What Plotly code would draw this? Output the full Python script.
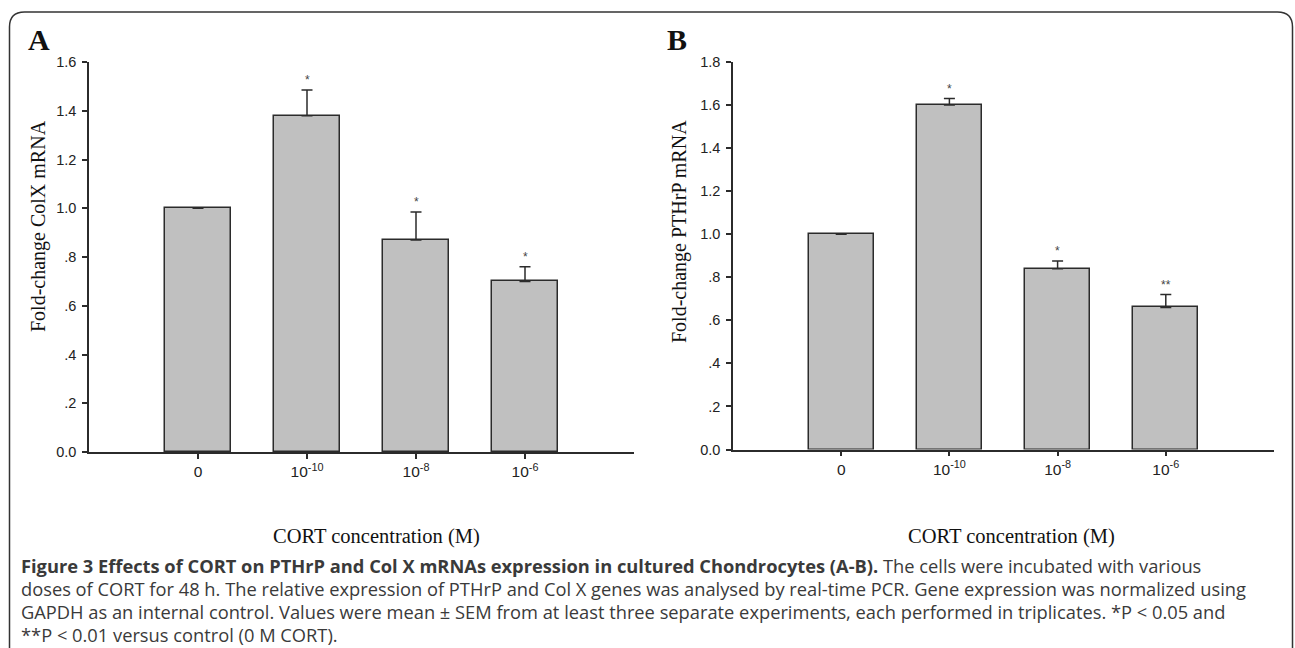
import plotly.graph_objects as go

W, H = 1295, 648

# ---------------- data ----------------
categories = ["0", "10<sup>-10</sup>", "10<sup>-8</sup>", "10<sup>-6</sup>"]
colx_mean = [1.00, 1.38, 0.87, 0.70]
colx_sem = [0.0, 0.105, 0.115, 0.06]
colx_sig = ["", "*", "*", "*"]

pthrp_mean = [1.00, 1.60, 0.84, 0.66]
pthrp_sem = [0.0, 0.03, 0.036, 0.06]
pthrp_sig = ["", "*", "*", "**"]

colx_ticks = [0, 0.2, 0.4, 0.6, 0.8, 1.0, 1.2, 1.4, 1.6]
colx_ticklabels = ["0.0", ".2", ".4", ".6", ".8", "1.0", "1.2", "1.4", "1.6"]
pthrp_ticks = [0, 0.2, 0.4, 0.6, 0.8, 1.0, 1.2, 1.4, 1.6, 1.8]
pthrp_ticklabels = ["0.0", ".2", ".4", ".6", ".8", "1.0", "1.2", "1.4", "1.6", "1.8"]

caption_lines = [
    "<b>Figure 3 Effects of CORT on PTHrP and Col X mRNAs expression in cultured Chondrocytes (A-B).</b> The cells were incubated with various",
    "doses of CORT for 48 h. The relative expression of PTHrP and Col X genes was analysed by real-time PCR. Gene expression was normalized using",
    "GAPDH as an internal control. Values were mean ± SEM from at least three separate experiments, each performed in triplicates. *P < 0.05 and",
    "**P < 0.01 versus control (0 M CORT).",
]

# ---------------- helpers ----------------
def px_x(p):
    return p / W

def px_y(p):
    return 1 - p / H

xpos = list(range(len(categories)))
BAR_FILL = "#c0c0c0"
EDGE = "#2b2b2b"

fig = go.Figure()


def add_panel(mean, sem, sig, xa, ya):
    fig.add_trace(go.Bar(
        x=xpos, y=mean, width=0.6, xaxis=xa, yaxis=ya,
        marker=dict(color=BAR_FILL, line=dict(color=EDGE, width=1.5)),
        error_y=dict(type="data", array=sem, arrayminus=[0] * len(sem),
                     symmetric=False, color=EDGE, thickness=1.5, width=5.5),
        showlegend=False, hoverinfo="skip",
    ))
    for i, s in enumerate(sig):
        if s:
            fig.add_annotation(
                x=xpos[i], y=mean[i] + sem[i], xref=xa, yref=ya,
                text=s, showarrow=False, yanchor="bottom", yshift=1,
                font=dict(family="Liberation Sans", size=12, color="#444"),
            )


add_panel(colx_mean, colx_sem, colx_sig, "x", "y")
add_panel(pthrp_mean, pthrp_sem, pthrp_sig, "x2", "y2")

ytickfont = dict(family="Liberation Sans", size=14.5, color="#222")
xtickfont = dict(family="Liberation Sans", size=15.5, color="#222")
common_x = dict(
    range=[-1, 4], tickmode="array", tickvals=xpos, ticktext=categories,
    showline=True, linecolor=EDGE, linewidth=1.5, ticks="outside",
    ticklen=5, tickwidth=1.5, tickcolor=EDGE, showgrid=False, zeroline=False,
    tickfont=xtickfont, fixedrange=True, automargin=False,
)
common_y = dict(
    showline=True, linecolor=EDGE, linewidth=1.5, ticks="outside",
    ticklen=5, tickwidth=1.5, tickcolor=EDGE, showgrid=False, zeroline=False,
    tickfont=ytickfont, tickmode="array", ticklabelstandoff=3, fixedrange=True,
    automargin=False,
)

fig.update_layout(
    template="none",
    width=W, height=H, autosize=False,
    margin=dict(l=0, r=0, t=0, b=0, pad=0, autoexpand=False),
    paper_bgcolor="white", plot_bgcolor="white",
    bargap=0,
    xaxis=dict(domain=[px_x(89), px_x(634)], anchor="y", **common_x),
    yaxis=dict(domain=[px_y(452), px_y(62)], anchor="x", range=[0, 1.6],
               tickvals=colx_ticks, ticktext=colx_ticklabels, **common_y),
    xaxis2=dict(domain=[px_x(733), px_x(1274)], anchor="y2", **common_x),
    yaxis2=dict(domain=[px_y(449.5), px_y(62)], anchor="x2", range=[0, 1.8],
                tickvals=pthrp_ticks, ticktext=pthrp_ticklabels, **common_y),
)

serif = "Liberation Serif"
# panel letters
for txt, cx in (("A", 39), ("B", 677)):
    fig.add_annotation(x=px_x(cx), y=px_y(39), xref="paper", yref="paper",
                       text=f"<b>{txt}</b>", showarrow=False,
                       xanchor="center", yanchor="middle",
                       font=dict(family=serif, size=30, color="#111"))

# y-axis titles
for txt, cx, cy in (("Fold-change ColX mRNA", 38, 226),
                    ("Fold-change PTHrP mRNA", 680, 231)):
    fig.add_annotation(x=px_x(cx), y=px_y(cy), xref="paper", yref="paper",
                       text=txt, textangle=-90, showarrow=False,
                       xanchor="center", yanchor="middle",
                       font=dict(family=serif, size=20, color="#111"))

# x-axis titles
for cx in (376, 1012):
    fig.add_annotation(x=px_x(cx), y=px_y(536), xref="paper", yref="paper",
                       text="CORT concentration (M)", showarrow=False,
                       xanchor="center", yanchor="middle",
                       font=dict(family=serif, size=20.5, color="#111"))

# caption
for i, line in enumerate(caption_lines):
    fig.add_annotation(x=px_x(19), y=px_y(565 + i * 23.2), xref="paper", yref="paper",
                       text=line, showarrow=False, xanchor="left", yanchor="middle",
                       align="left",
                       font=dict(family="Open Sans", size=18.3, color="#3a3a3a"))

# rounded frame (open at bottom, as in the figure)
x0, x1, yt, r = 9.5, 1292.5, 12, 15
path = (f"M {px_x(x0)},{px_y(H)} L {px_x(x0)},{px_y(yt + r)} "
        f"Q {px_x(x0)},{px_y(yt)} {px_x(x0 + r)},{px_y(yt)} "
        f"L {px_x(x1 - r)},{px_y(yt)} "
        f"Q {px_x(x1)},{px_y(yt)} {px_x(x1)},{px_y(yt + r)} "
        f"L {px_x(x1)},{px_y(H)}")
fig.add_shape(type="path", path=path, xref="paper", yref="paper",
              line=dict(color="#333", width=1.5))

fig.write_html(
    "out.html",
    config={"displayModeBar": False},
    post_script="document.body.style.margin='0px';document.body.style.overflow='hidden';",
)
